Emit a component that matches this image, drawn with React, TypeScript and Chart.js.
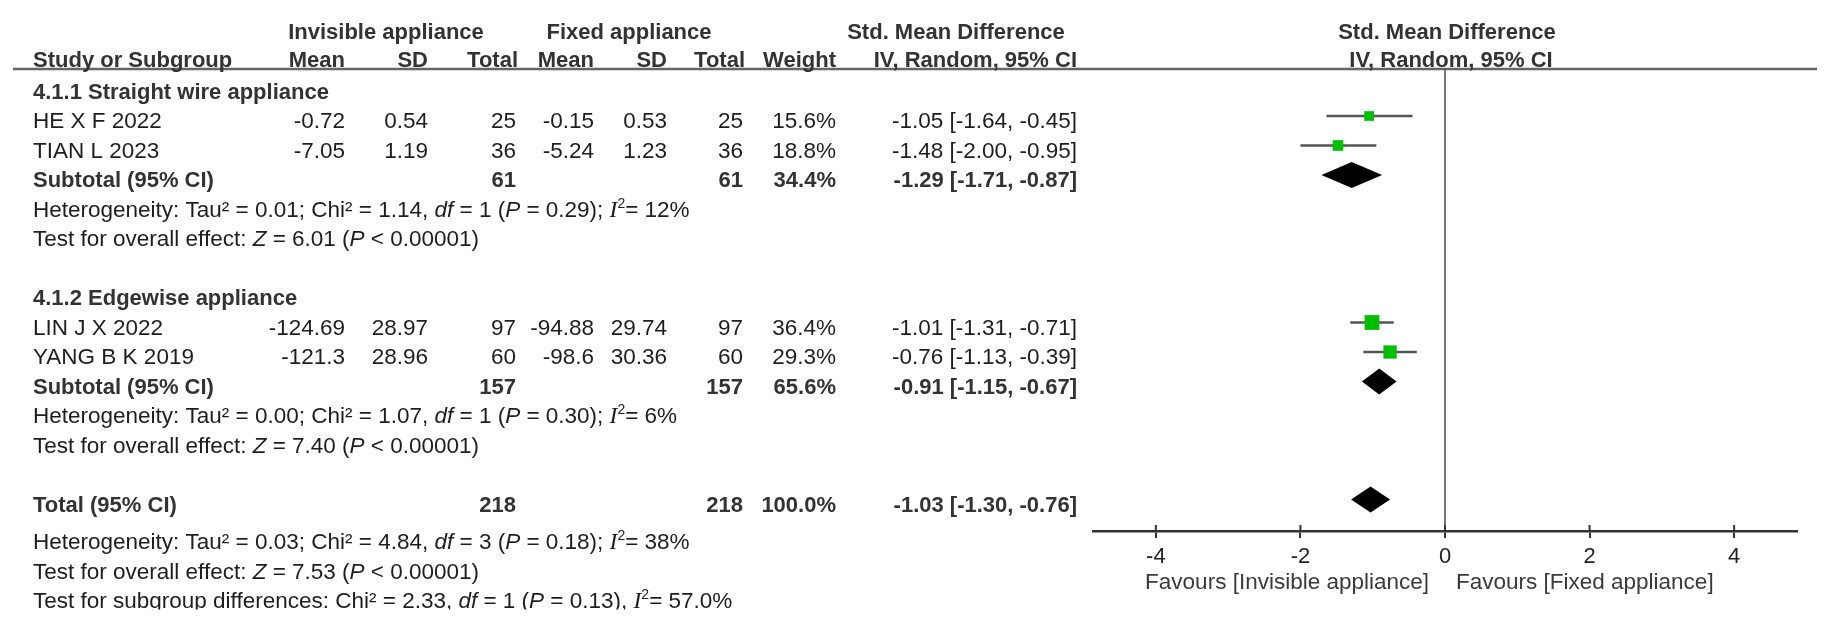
import React, { useEffect, useRef } from 'react';
import { Chart, registerables } from 'chart.js';

Chart.register(...registerables);

// ---------------- data ----------------
const studyNames = ['HE X F 2022', 'TIAN L 2023', 'LIN J X 2022', 'YANG B K 2019'];
const studyRows = [1, 2, 8, 9];
const invMean = [-0.72, -7.05, -124.69, -121.3];
const invSD = [0.54, 1.19, 28.97, 28.96];
const invN = [25, 36, 97, 60];
const fixMean = [-0.15, -5.24, -94.88, -98.6];
const fixSD = [0.53, 1.23, 29.74, 30.36];
const fixN = [25, 36, 97, 60];
const weights = [15.6, 18.8, 36.4, 29.3];
const smd = [-1.05, -1.48, -1.01, -0.76];
const ciLo = [-1.64, -2.0, -1.31, -1.13];
const ciHi = [-0.45, -0.95, -0.71, -0.39];

const subgroupTitles = ['4.1.1 Straight wire appliance', '4.1.2 Edgewise appliance'];
const subgroupTitleRows = [0, 7];
const subtotalRows = [3, 10];
const subInvN = [61, 157];
const subFixN = [61, 157];
const subWeight = [34.4, 65.6];
const subEst = [-1.29, -0.91];
const subLo = [-1.71, -1.15];
const subHi = [-0.87, -0.67];

const totalRow = 14;
const totalInvN = 218;
const totalFixN = 218;
const totalWeight = 100.0;
const totalEst = -1.03;
const totalLo = -1.3;
const totalHi = -0.76;

const hetRows = [4, 11, 15.27];
const hetTau = ['0.01', '0.00', '0.03'];
const hetChi = ['1.14', '1.07', '4.84'];
const hetDf = ['1', '1', '3'];
const hetP = ['0.29', '0.30', '0.18'];
const hetI2 = ['12%', '6%', '38%'];

const effRows = [5, 12, 16.27];
const effZ = ['6.01', '7.40', '7.53'];
const effP = ['< 0.00001', '< 0.00001', '< 0.00001'];

const diffRow = 17.27;
const diffChi = '2.33';
const diffDf = '1';
const diffP = '0.13';
const diffI2 = '57.0%';

const xTicks = [-4, -2, 0, 2, 4];
const xMin = -4.87;
const xMax = 4.87;
const rowMin = -0.593;
const rowMax = 15.068;
const headerRow1 = -2.05;
const headerRow2 = -1.07;

// ---------------- styling ----------------
const SANS = '"Liberation Sans", Arial, Helvetica, sans-serif';
const SERIF = '"Liberation Serif", "Times New Roman", serif';
const FONTS: Record<string, string> = {
  n: `22.5px ${SANS}`,
  b: `bold 22px ${SANS}`,
  i: `italic 22.5px ${SANS}`,
  I: `italic 23.5px ${SERIF}`,
  s: `14px ${SANS}`,
};
const TXT = '#1e1e1e';
const BOLD = '#333333';

type Seg = [string, string];

function drawSegs(ctx: CanvasRenderingContext2D, segs: Seg[], x0: number, yb: number) {
  let x = x0;
  ctx.textAlign = 'left';
  for (const [t, st] of segs) {
    ctx.font = FONTS[st];
    const dy = st === 's' ? -9 : 0;
    ctx.fillText(t, x, yb + dy);
    x += ctx.measureText(t).width;
  }
}

function txt(ctx: CanvasRenderingContext2D, t: string, x: number, yb: number, align: CanvasTextAlign, st = 'n', color = TXT) {
  ctx.font = FONTS[st];
  ctx.fillStyle = color;
  ctx.textAlign = align;
  ctx.fillText(t, x, yb);
}

const fmtCI = (e: number, l: number, h: number) => `${e.toFixed(2)} [${l.toFixed(2)}, ${h.toFixed(2)}]`;

// column anchors (right edges unless noted)
const COL = {
  study: 33,
  invMean: 345,
  invSD: 428,
  invN: 516,
  fixMean: 594,
  fixSD: 667,
  fixN: 743,
  weight: 836,
  ci: 1077,
  invCenter: 386,
  fixCenter: 629,
  smdCenter: 956,
};
const BASE_OFF = 12.5;

const forestPlugin = {
  id: 'forest',
  beforeDatasetsDraw(chart: any) {
    const { ctx, chartArea } = chart;
    const x = chart.scales.x;
    const y = chart.scales.y;
    ctx.save();
    // header rule
    ctx.strokeStyle = '#666666';
    ctx.lineWidth = 2.5;
    ctx.beginPath();
    ctx.moveTo(13, chartArea.top);
    ctx.lineTo(chart.width - 14, chartArea.top);
    ctx.stroke();
    // whiskers
    ctx.strokeStyle = '#555555';
    ctx.lineWidth = 2.5;
    studyRows.forEach((r, i) => {
      const py = y.getPixelForValue(r);
      ctx.beginPath();
      ctx.moveTo(x.getPixelForValue(ciLo[i]), py);
      ctx.lineTo(x.getPixelForValue(ciHi[i]), py);
      ctx.stroke();
    });
    // diamonds
    const diamond = (row: number, e: number, l: number, h: number) => {
      const py = y.getPixelForValue(row);
      ctx.fillStyle = '#000000';
      ctx.beginPath();
      ctx.moveTo(x.getPixelForValue(l), py);
      ctx.lineTo(x.getPixelForValue(e), py - 13);
      ctx.lineTo(x.getPixelForValue(h), py);
      ctx.lineTo(x.getPixelForValue(e), py + 13);
      ctx.closePath();
      ctx.fill();
    };
    subtotalRows.forEach((r, i) => diamond(r, subEst[i], subLo[i], subHi[i]));
    diamond(totalRow, totalEst, totalLo, totalHi);
    // upward halves of tick marks
    ctx.strokeStyle = '#333333';
    ctx.lineWidth = 2;
    xTicks.forEach((v) => {
      const px = x.getPixelForValue(v);
      ctx.beginPath();
      ctx.moveTo(px, chartArea.bottom);
      ctx.lineTo(px, chartArea.bottom - 6);
      ctx.stroke();
    });
    ctx.restore();
  },
  afterDraw(chart: any) {
    const { ctx } = chart;
    const x = chart.scales.x;
    const y = chart.scales.y;
    const yb = (r: number) => y.getPixelForValue(r) + BASE_OFF;
    const zero = x.getPixelForValue(0);
    ctx.save();
    ctx.textBaseline = 'alphabetic';

    // headers
    const h1 = yb(headerRow1);
    const h2 = yb(headerRow2);
    txt(ctx, 'Invisible appliance', COL.invCenter, h1, 'center', 'b', BOLD);
    txt(ctx, 'Fixed appliance', COL.fixCenter, h1, 'center', 'b', BOLD);
    txt(ctx, 'Std. Mean Difference', COL.smdCenter, h1, 'center', 'b', BOLD);
    txt(ctx, 'Std. Mean Difference', zero + 2, h1, 'center', 'b', BOLD);
    txt(ctx, 'Study or Subgroup', COL.study, h2, 'left', 'b', BOLD);
    txt(ctx, 'Mean', COL.invMean, h2, 'right', 'b', BOLD);
    txt(ctx, 'SD', COL.invSD, h2, 'right', 'b', BOLD);
    txt(ctx, 'Total', COL.invN + 2, h2, 'right', 'b', BOLD);
    txt(ctx, 'Mean', COL.fixMean, h2, 'right', 'b', BOLD);
    txt(ctx, 'SD', COL.fixSD, h2, 'right', 'b', BOLD);
    txt(ctx, 'Total', COL.fixN + 2, h2, 'right', 'b', BOLD);
    txt(ctx, 'Weight', COL.weight, h2, 'right', 'b', BOLD);
    txt(ctx, 'IV, Random, 95% CI', COL.ci, h2, 'right', 'b', BOLD);
    txt(ctx, 'IV, Random, 95% CI', zero + 6, h2, 'center', 'b', BOLD);

    // subgroup titles
    subgroupTitles.forEach((t, i) => txt(ctx, t, COL.study, yb(subgroupTitleRows[i]), 'left', 'b', BOLD));

    // studies
    studyNames.forEach((name, i) => {
      const b = yb(studyRows[i]);
      txt(ctx, name, COL.study, b, 'left');
      txt(ctx, String(invMean[i]), COL.invMean, b, 'right');
      txt(ctx, String(invSD[i]), COL.invSD, b, 'right');
      txt(ctx, String(invN[i]), COL.invN, b, 'right');
      txt(ctx, String(fixMean[i]), COL.fixMean, b, 'right');
      txt(ctx, String(fixSD[i]), COL.fixSD, b, 'right');
      txt(ctx, String(fixN[i]), COL.fixN, b, 'right');
      txt(ctx, `${weights[i].toFixed(1)}%`, COL.weight, b, 'right');
      txt(ctx, fmtCI(smd[i], ciLo[i], ciHi[i]), COL.ci, b, 'right');
    });

    // subtotals
    subtotalRows.forEach((r, i) => {
      const b = yb(r);
      txt(ctx, 'Subtotal (95% CI)', COL.study, b, 'left', 'b', BOLD);
      txt(ctx, String(subInvN[i]), COL.invN, b, 'right', 'b', BOLD);
      txt(ctx, String(subFixN[i]), COL.fixN, b, 'right', 'b', BOLD);
      txt(ctx, `${subWeight[i].toFixed(1)}%`, COL.weight, b, 'right', 'b', BOLD);
      txt(ctx, fmtCI(subEst[i], subLo[i], subHi[i]), COL.ci, b, 'right', 'b', BOLD);
    });

    // total
    {
      const b = yb(totalRow);
      txt(ctx, 'Total (95% CI)', COL.study, b, 'left', 'b', BOLD);
      txt(ctx, String(totalInvN), COL.invN, b, 'right', 'b', BOLD);
      txt(ctx, String(totalFixN), COL.fixN, b, 'right', 'b', BOLD);
      txt(ctx, `${totalWeight.toFixed(1)}%`, COL.weight, b, 'right', 'b', BOLD);
      txt(ctx, fmtCI(totalEst, totalLo, totalHi), COL.ci, b, 'right', 'b', BOLD);
    }

    // heterogeneity / effect lines
    ctx.fillStyle = TXT;
    hetRows.forEach((r, i) => {
      drawSegs(ctx, [
        [`Heterogeneity: Tau\u00b2 = ${hetTau[i]}; Chi\u00b2 = ${hetChi[i]}, `, 'n'],
        ['df', 'i'],
        [` = ${hetDf[i]} (`, 'n'],
        ['P', 'i'],
        [` = ${hetP[i]}); `, 'n'],
        ['I', 'I'],
        ['2', 's'],
        [`= ${hetI2[i]}`, 'n'],
      ], COL.study, yb(r));
    });
    effRows.forEach((r, i) => {
      drawSegs(ctx, [
        ['Test for overall effect: ', 'n'],
        ['Z', 'i'],
        [` = ${effZ[i]} (`, 'n'],
        ['P', 'i'],
        [` ${effP[i]})`, 'n'],
      ], COL.study, yb(r));
    });
    {
      const b = yb(diffRow);
      ctx.save();
      ctx.beginPath();
      ctx.rect(0, 0, chart.width, b + 1);
      ctx.clip();
      drawSegs(ctx, [
        [`Test for subgroup differences: Chi\u00b2 = ${diffChi}, `, 'n'],
        ['df', 'i'],
        [` = ${diffDf} (`, 'n'],
        ['P', 'i'],
        [` = ${diffP}), `, 'n'],
        ['I', 'I'],
        ['2', 's'],
        [`= ${diffI2}`, 'n'],
      ], COL.study, b);
      ctx.restore();
    }

    // favours labels
    const fy = chart.chartArea.bottom + 58;
    txt(ctx, 'Favours [Invisible appliance]', zero - 16, fy, 'right', 'n', '#3a3a3a');
    txt(ctx, 'Favours [Fixed appliance]', zero + 11, fy, 'left', 'n', '#3a3a3a');
    ctx.restore();
  },
};

export default function App() {
  const ref = useRef<HTMLCanvasElement | null>(null);
  useEffect(() => {
    if (!ref.current) return;
    const chart = new Chart(ref.current, {
      type: 'scatter',
      data: {
        datasets: [
          {
            data: studyRows.map((r, i) => ({ x: smd[i], y: r })),
            pointStyle: 'rect',
            pointRadius: weights.map((w) => (2.45 * Math.sqrt(w)) / (2 * Math.SQRT1_2)),
            pointHoverRadius: weights.map((w) => (2.45 * Math.sqrt(w)) / (2 * Math.SQRT1_2)),
            backgroundColor: '#00bf00',
            borderWidth: 0,
          },
        ],
      },
      options: {
        animation: false,
        responsive: false,
        devicePixelRatio: 1,
        layout: { padding: { left: 1093, right: 34, top: 69, bottom: 0 } },
        plugins: { legend: { display: false }, tooltip: { enabled: false } },
        events: [],
        scales: {
          x: {
            type: 'linear',
            min: xMin,
            max: xMax,
            afterBuildTicks: (scale: any) => {
              scale.ticks = xTicks.map((v) => ({ value: v }));
            },
            afterFit: (scale: any) => {
              scale.height = 101;
            },
            ticks: {
              font: { family: SANS, size: 22 },
              color: '#222222',
              padding: 6,
              maxRotation: 0,
              autoSkip: false,
              callback: (v: any) => String(v),
            },
            grid: {
              drawOnChartArea: true,
              drawTicks: true,
              tickLength: 7,
              tickWidth: 2,
              tickColor: '#333333',
              lineWidth: 2,
              color: (c: any) => (c.tick && c.tick.value === 0 ? '#777777' : 'rgba(0,0,0,0)'),
            },
            border: { display: true, color: '#333333', width: 2.5 },
          },
          y: {
            type: 'linear',
            min: rowMin,
            max: rowMax,
            reverse: true,
            display: false,
          },
        },
      },
      plugins: [forestPlugin],
    });
    return () => chart.destroy();
  }, []);
  return (
    <div style={{ position: 'absolute', left: 0, top: 0, width: 1831, height: 632, background: '#ffffff' }}>
      <canvas ref={ref} width={1831} height={632} style={{ width: 1831, height: 632, display: 'block' }} />
    </div>
  );
}
